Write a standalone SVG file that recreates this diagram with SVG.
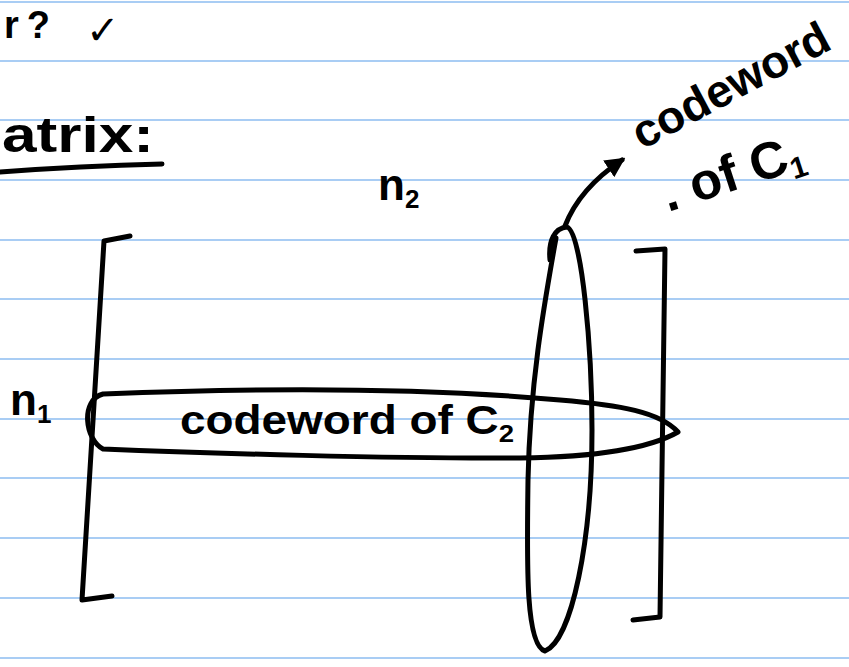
<svg xmlns="http://www.w3.org/2000/svg" width="849" height="667" viewBox="0 0 849 667">
<style>
.rule{stroke:#a9cdf4;stroke-width:2}
.ink{fill:none;stroke:#000;stroke-width:5;stroke-linecap:round;stroke-linejoin:round}
.hw{font-family:"Liberation Sans","DejaVu Sans",sans-serif;fill:#000;font-weight:bold}
</style>
<defs>
<marker id="ah" viewBox="0 0 10 10" refX="8" refY="5" markerWidth="4" markerHeight="4" orient="auto" markerUnits="strokeWidth">
<path d="M0,0 L10,5 L0,10 Z" fill="#000"/>
</marker>
</defs>
<rect width="849" height="667" fill="#fff"/>
<g id="rules">
<line class="rule" x1="0" y1="2" x2="849" y2="2"/>
<line class="rule" x1="0" y1="61" x2="849" y2="61"/>
<line class="rule" x1="0" y1="120" x2="849" y2="120"/>
<line class="rule" x1="0" y1="180" x2="849" y2="180"/>
<line class="rule" x1="0" y1="240" x2="849" y2="240"/>
<line class="rule" x1="0" y1="299" x2="849" y2="299"/>
<line class="rule" x1="0" y1="359" x2="849" y2="359"/>
<line class="rule" x1="0" y1="419" x2="849" y2="419"/>
<line class="rule" x1="0" y1="478" x2="849" y2="478"/>
<line class="rule" x1="0" y1="538" x2="849" y2="538"/>
<line class="rule" x1="0" y1="598" x2="849" y2="598"/>
<line class="rule" x1="0" y1="658" x2="849" y2="658"/>
</g>
<g id="header">
<text class="hw" x="4" y="38" font-size="38" letter-spacing="8">r?</text>
<text class="hw" x="86" y="44" font-size="40" font-family="DejaVu Sans, sans-serif">✓</text>
<text class="hw" x="2" y="152" font-size="50" textLength="152" lengthAdjust="spacingAndGlyphs">atrix:</text>
<path class="ink" d="M0,172 Q80,166 162,164" stroke-width="6"/>
</g>
<g id="matrix">
<path class="ink" d="M130,236 L104,241 L82,600 L112,596"/>
<path class="ink" d="M636,251 L665,249 L660,617 L633,620"/>
</g>
<g id="row-codeword">
<path class="ink" d="M103,394 C80,400 85,440 103,449 C200,453 400,459 520,458 C600,457 650,448 678,432 C660,412 620,405 560,400 C450,390 300,386 103,394 Z"/>
<text class="hw" x="180" y="434" font-size="40" textLength="334" lengthAdjust="spacingAndGlyphs">codeword of C<tspan font-size="24" dy="8">2</tspan></text>
</g>
<g id="column-codeword">
<path class="ink" d="M550,260 C548,240 555,228 567,227 C582,232 592,350 592,430 C592,540 572,640 545,651 C525,645 527,560 528,480 C530,380 545,300 556,238"/>
</g>
<g id="labels">
<text class="hw" x="378" y="200" font-size="44">n<tspan font-size="26" dy="8">2</tspan></text>
<text class="hw" x="10" y="415" font-size="44">n<tspan font-size="26" dy="8">1</tspan></text>
<text class="hw" x="642" y="150" font-size="46" transform="rotate(-28 642 150)">codeword</text>
<text class="hw" x="668" y="212" font-size="52" transform="rotate(-18 668 212)">. of C<tspan font-size="30" dy="8">1</tspan></text>
</g>
<g id="connectors">
<path class="ink" d="M565,226 C575,200 595,178 622,160" marker-end="url(#ah)"/>
</g>
</svg>
